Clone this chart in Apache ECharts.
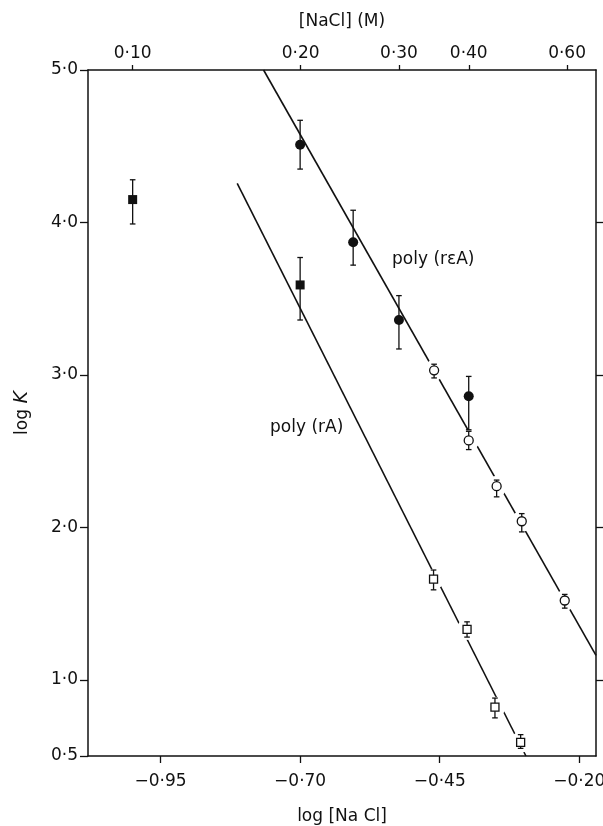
<!DOCTYPE html>
<html>
<head>
<meta charset="utf-8">
<script src="https://cdn.jsdelivr.net/npm/echarts@6/dist/echarts.min.js"></script>
<style>
html,body{margin:0;padding:0;background:#fff;}
#chart{width:603px;height:826px;}
</style>
</head>
<body>
<div id="chart"></div>
<script>
// ---- Data ----
// Axis ticks
const xTickVals = [-0.95, -0.70, -0.45, -0.20];
const xTickLabels = ['−0·95', '−0·70', '−0·45', '−0·20'];
const yTickVals = [0.5, 1, 2, 3, 4, 5];
const yTickLabels = ['0·5', '1·0', '2·0', '3·0', '4·0', '5·0'];
const yRightTickVals = [1, 2, 3, 4];
const naclConc = [0.10, 0.20, 0.30, 0.40, 0.60];
const naclLabels = ['0·10', '0·20', '0·30', '0·40', '0·60'];

// poly(rεA): filled circles
const fcX  = [-0.70, -0.605, -0.523, -0.398];
const fcY  = [4.51, 3.87, 3.36, 2.86];
const fcLo = [4.35, 3.72, 3.17, 2.64];
const fcHi = [4.67, 4.08, 3.52, 2.99];
// poly(rεA): open circles
const ocX  = [-0.46, -0.398, -0.348, -0.303, -0.226];
const ocY  = [3.03, 2.57, 2.27, 2.04, 1.52];
const ocLo = [2.98, 2.51, 2.20, 1.97, 1.47];
const ocHi = [3.07, 2.63, 2.31, 2.09, 1.56];
// poly(rA): filled squares
const fsX  = [-1.00, -0.70];
const fsY  = [4.15, 3.59];
const fsLo = [3.99, 3.36];
const fsHi = [4.28, 3.77];
// poly(rA): open squares
const osX  = [-0.461, -0.401, -0.351, -0.305];
const osY  = [1.66, 1.33, 0.82, 0.59];
const osLo = [1.59, 1.28, 0.75, 0.55];
const osHi = [1.72, 1.38, 0.88, 0.64];
// fitted lines (end points)
const lineREAX = [-0.7655, -0.17];
const lineREAY = [5.0, 1.16];
const lineRAX  = [-0.8127, -0.2955];
const lineRAY  = [4.257, 0.5];

// ---- helpers ----
const zip2 = (a, b) => a.map((v, i) => [v, b[i]]);
const zip4 = (a, b, c, d) => a.map((v, i) => [v, b[i], c[i], d[i]]);
const pick = (vals, labels) => v => {
  const i = vals.findIndex(t => Math.abs(t - v) < 1e-6);
  return i >= 0 ? labels[i] : '';
};
const naclPos = naclConc.map(c => Math.log10(c));

const FONT = '"DejaVu Sans", sans-serif';
const INK = '#111';

function errRender(params, api) {
  const x = api.value(0), lo = api.value(2), hi = api.value(3);
  const pl = api.coord([x, lo]);
  const ph = api.coord([x, hi]);
  const c = 2.8;
  const st = { stroke: INK, lineWidth: 1.3 };
  return {
    type: 'group',
    children: [
      { type: 'line', shape: { x1: pl[0], y1: pl[1], x2: ph[0], y2: ph[1] }, style: st },
      { type: 'line', shape: { x1: pl[0] - c, y1: pl[1], x2: pl[0] + c, y2: pl[1] }, style: st },
      { type: 'line', shape: { x1: ph[0] - c, y1: ph[1], x2: ph[0] + c, y2: ph[1] }, style: st }
    ]
  };
}
function errSeries(x, y, lo, hi) {
  return {
    type: 'custom', silent: true, renderItem: errRender, z: 3,
    encode: { x: 0, y: 1 },
    data: zip4(x, y, lo, hi), clip: false
  };
}
function markSeries(x, y, symbol, size, style) {
  return {
    type: 'scatter', data: zip2(x, y), symbol: symbol, symbolSize: size, z: 4,
    itemStyle: Object.assign({ opacity: 1 }, style),
    emphasis: { disabled: true }
  };
}

const axisLine = { show: true, onZero: false, lineStyle: { color: INK, width: 1.5 } };
const labelStyle = { color: INK, fontFamily: FONT, fontSize: 17 };
const nameStyle = { color: INK, fontFamily: FONT, fontSize: 17 };

const chart = echarts.init(document.getElementById('chart'), null, { renderer: 'canvas' });
chart.setOption({
  backgroundColor: '#fff',
  animation: false,
  grid: { left: 88, right: 7, top: 70, bottom: 70, containLabel: false, outerBoundsMode: 'none' },
  xAxis: [
    {
      type: 'value', position: 'bottom', min: -1.08, max: -0.17,
      axisLine: axisLine,
      axisTick: { show: true, inside: false, length: 7, customValues: xTickVals, lineStyle: { color: INK, width: 1.3 } },
      axisLabel: Object.assign({ show: true, margin: 17, customValues: xTickVals, formatter: pick(xTickVals, xTickLabels) }, labelStyle),
      splitLine: { show: false },
      name: 'log [Na Cl]', nameLocation: 'middle', nameGap: 52,
      nameTextStyle: nameStyle
    },
    {
      type: 'value', position: 'top', min: -1.08, max: -0.17,
      axisLine: axisLine,
      axisTick: { show: true, inside: false, length: 5, customValues: naclPos, lineStyle: { color: INK, width: 1.3 } },
      axisLabel: Object.assign({ show: true, margin: 8, customValues: naclPos, formatter: pick(naclPos, naclLabels) }, labelStyle),
      splitLine: { show: false },
      name: '[NaCl] (M)', nameLocation: 'middle', nameGap: 40,
      nameTextStyle: nameStyle
    }
  ],
  yAxis: [
    {
      type: 'value', position: 'left', min: 0.5, max: 5,
      axisLine: axisLine,
      axisTick: { show: true, inside: false, length: 8, customValues: yTickVals, lineStyle: { color: INK, width: 1.3 } },
      axisLabel: Object.assign({ show: true, margin: 10, customValues: yTickVals, formatter: pick(yTickVals, yTickLabels) }, labelStyle),
      splitLine: { show: false },
      name: '{a|log }{b|K}', nameLocation: 'middle', nameGap: 56, nameRotate: 90,
      nameTextStyle: {
        color: INK, fontFamily: FONT, fontSize: 17,
        rich: {
          a: { color: INK, fontFamily: FONT, fontSize: 17 },
          b: { color: INK, fontFamily: FONT, fontSize: 19, fontStyle: 'italic' }
        }
      }
    },
    {
      type: 'value', position: 'right', min: 0.5, max: 5,
      axisLine: axisLine,
      axisTick: { show: true, inside: false, length: 7, customValues: yRightTickVals, lineStyle: { color: INK, width: 1.3 } },
      axisLabel: { show: false },
      splitLine: { show: false }
    }
  ],
  series: [
    // fitted lines
    { type: 'line', data: zip2(lineREAX, lineREAY), symbol: 'none', silent: true, z: 1,
      lineStyle: { color: INK, width: 1.6 } },
    { type: 'line', data: zip2(lineRAX, lineRAY), symbol: 'none', silent: true, z: 1,
      lineStyle: { color: INK, width: 1.6 } },
    // white halos that break the lines around the open markers
    { type: 'scatter', data: zip2(ocX, ocY), symbol: 'circle', symbolSize: 21, silent: true, z: 2,
      itemStyle: { color: '#fff', opacity: 1 } },
    { type: 'scatter', data: zip2(osX, osY), symbol: 'circle', symbolSize: 21, silent: true, z: 2,
      itemStyle: { color: '#fff', opacity: 1 } },
    // error bars
    errSeries(fcX, fcY, fcLo, fcHi),
    errSeries(ocX, ocY, ocLo, ocHi),
    errSeries(fsX, fsY, fsLo, fsHi),
    errSeries(osX, osY, osLo, osHi),
    // markers
    markSeries(fsX, fsY, 'rect', 9, { color: INK }),
    markSeries(fcX, fcY, 'circle', 10, { color: INK }),
    markSeries(ocX, ocY, 'circle', 9, { color: '#fff', borderColor: INK, borderWidth: 1.3 }),
    markSeries(osX, osY, 'rect', 8, { color: '#fff', borderColor: INK, borderWidth: 1.3 })
  ],
  graphic: [
    { type: 'text', left: 392, top: 251, silent: true, z: 10,
      style: { text: 'poly (rεA)', fill: INK, font: '17px ' + FONT } },
    { type: 'text', left: 270, top: 419, silent: true, z: 10,
      style: { text: 'poly (rA)', fill: INK, font: '17px ' + FONT } }
  ]
});
</script>
</body>
</html>
